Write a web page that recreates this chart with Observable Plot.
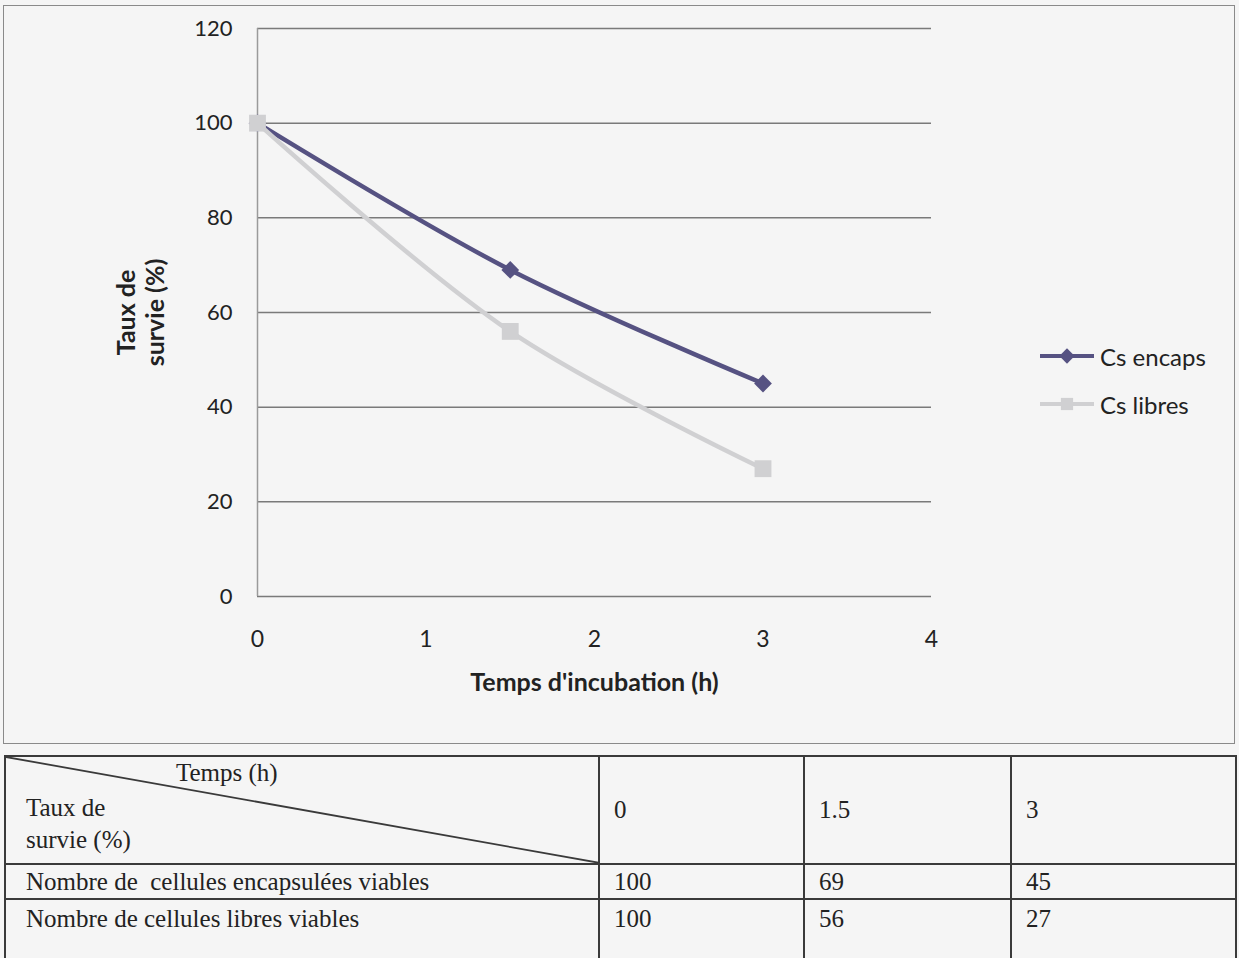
<!DOCTYPE html>
<html>
<head>
<meta charset="utf-8">
<script src="https://cdn.jsdelivr.net/npm/d3@7"></script>
<script src="https://cdn.jsdelivr.net/npm/@observablehq/plot@0.6"></script>
<style>
  html, body { margin: 0; padding: 0; background: #f5f5f5; }
  #wrap { position: relative; width: 1239px; height: 958px; overflow: hidden; }
  #frame { position: absolute; left: 3px; top: 5px; width: 1230px; height: 737px; border: 1.5px solid #8a8a8a; }
  #chart { position: absolute; left: 0; top: 0; }
  #legend { position: absolute; left: 1038px; top: 332px; font-family: Lato, sans-serif; font-size: 24px; color: #222; }
  #legend .item { display: flex; align-items: center; height: 48px; }
  #legend svg { margin-right: 4px; }
  #tbl { position: absolute; left: 4px; top: 755px; border-collapse: collapse; table-layout: fixed; width: 1231px;
         font-family: "Liberation Serif", serif; font-size: 25px; color: #222; }
  #tbl td { box-sizing: border-box; border: 2px solid #3a3a3a; padding: 0 0 0 14px; white-space: pre; line-height: 28px; }
</style>
</head>
<body>
<div id="wrap">
  <div id="frame"></div>
  <div id="chart"></div>
  <div id="legend"></div>
  <table id="tbl"></table>
</div>
<script>
// ---- data ----
const times = [0, 1.5, 3];
const encaps = [100, 69, 45];
const libres = [100, 56, 27];
const seriesNames = ["Cs encaps", "Cs libres"];
const seriesColors = ["#565282", "#d0d0d2"];
const seriesSymbols = ["diamond2", "square"];
const seriesRadii = [8, 9.5];
const xTicks = [0, 1, 2, 3, 4];
const yTicks = [0, 20, 40, 60, 80, 100, 120];
const xTitle = "Temps d'incubation (h)";
const yTitle = "Taux de\nsurvie (%)";
const tableCorner = ["Temps (h)", "Taux de", "survie (%)"];
const tableTimes = ["0", "1.5", "3"];
const tableRowLabels = ["Nombre de  cellules encapsulées viables", "Nombre de cellules libres viables"];

const values = [encaps, libres];
const data = [];
values.forEach((vals, i) => vals.forEach((v, j) => data.push({series: seriesNames[i], t: times[j], v})));

const chart = Plot.plot({
  width: 1239,
  height: 745,
  marginLeft: 257,
  marginRight: 308,
  marginTop: 28,
  marginBottom: 149,
  style: {fontFamily: "Lato, sans-serif", fontSize: "22px", color: "#222", background: "transparent"},
  x: {domain: [0, 4], label: null},
  y: {domain: [0, 120], label: null},
  color: {domain: seriesNames, range: seriesColors},
  symbol: {domain: seriesNames, range: seriesSymbols},
  marks: [
    Plot.gridY(yTicks, {stroke: "#7a7a7a", strokeOpacity: 1, strokeWidth: 1.5}),
    Plot.ruleX([0], {stroke: "#9a9a9a", strokeWidth: 1.5}),
    Plot.axisY(yTicks, {tickSize: 0, tickPadding: 25, label: null, fontSize: 22, tickFormat: d => String(d)}),
    Plot.axisX(xTicks, {tickSize: 0, tickPadding: 34, label: null, fontSize: 23, tickFormat: d => String(d)}),
    Plot.line(data, {x: "t", y: "v", z: "series", stroke: "series", strokeWidth: 4.5, curve: "catmull-rom"}),
    ...seriesNames.map((name, i) =>
      Plot.dot(data.filter(d => d.series === name), {x: "t", y: "v", symbol: "series", fill: "series", stroke: "none", r: seriesRadii[i]})),
    Plot.text([xTitle], {frameAnchor: "bottom", dy: 94, fontWeight: "bold", fontSize: 25}),
    Plot.text([yTitle], {frameAnchor: "left", textAnchor: "middle", dx: -117, rotate: -90, fontWeight: "bold", fontSize: 25, lineHeight: 1.15})
  ]
});
document.getElementById("chart").appendChild(chart);

// ---- legend ----
const legend = d3.select("#legend");
seriesNames.forEach((name, i) => {
  const item = legend.append("div").attr("class", "item");
  const svg = item.append("svg").attr("width", 58).attr("height", 20);
  svg.append("line").attr("x1", 2).attr("x2", 56).attr("y1", 10).attr("y2", 10)
    .attr("stroke", seriesColors[i]).attr("stroke-width", 4);
  const sym = seriesSymbols[i] === "diamond2" ? d3.symbolDiamond2 : d3.symbolSquare;
  svg.append("path").attr("transform", "translate(29,10)")
    .attr("d", d3.symbol(sym, 150)())
    .attr("fill", seriesColors[i]);
  item.append("span").text(name);
});

// ---- table ----
const tbl = d3.select("#tbl");
const colW = [594, 205, 207, 225];
const cg = tbl.append("colgroup");
colW.forEach(w => cg.append("col").style("width", w + "px"));
const hdr = tbl.append("tr").style("height", "108px");
const corner = hdr.append("td").style("position", "relative").style("padding", "0");
const csvg = corner.append("svg").style("position", "absolute").style("left", 0).style("top", 0)
  .attr("width", colW[0]).attr("height", 106);
csvg.append("line").attr("x1", 0).attr("y1", 0).attr("x2", colW[0]).attr("y2", 106)
  .attr("stroke", "#3a3a3a").attr("stroke-width", 1.8);
corner.append("div").style("position", "absolute").style("left", "170px").style("top", "2px").text(tableCorner[0]);
corner.append("div").style("position", "absolute").style("left", "20px").style("top", "37px").text(tableCorner[1]);
corner.append("div").style("position", "absolute").style("left", "20px").style("top", "69px").text(tableCorner[2]);
tableTimes.forEach((t, j) => hdr.append("td").text(t));
[encaps, libres].forEach((vals, i) => {
  const tr = tbl.append("tr").style("height", i === 0 ? "35px" : "70px");
  tr.append("td").style("padding-left", "20px").style("vertical-align", i === 0 ? "middle" : "top")
    .style("padding-top", i === 0 ? "0" : "5px").text(tableRowLabels[i]);
  vals.forEach(v => tr.append("td").style("vertical-align", i === 0 ? "middle" : "top")
    .style("padding-top", i === 0 ? "0" : "5px").text(String(v)));
});
</script>
</body>
</html>
